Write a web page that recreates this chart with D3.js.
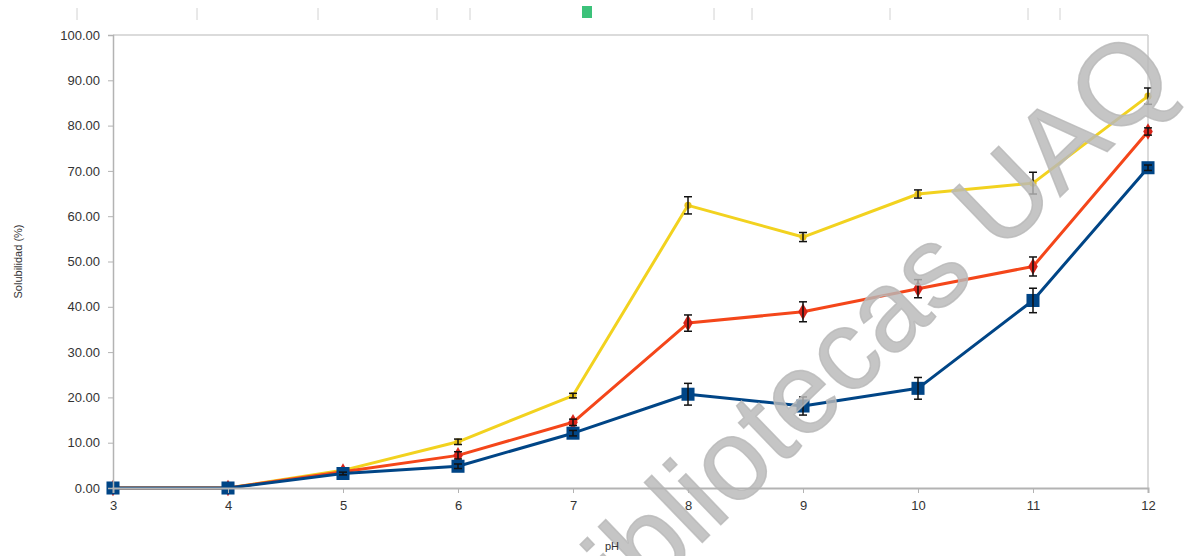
<!DOCTYPE html>
<html>
<head>
<meta charset="utf-8">
<script src="https://cdn.jsdelivr.net/npm/d3@7/dist/d3.min.js"></script>
<style>
  html, body { margin: 0; padding: 0; background: #fff; }
  svg { display: block; font-family: "Liberation Sans", Arial, sans-serif; }
</style>
</head>
<body>
<svg id="chart" width="1192" height="556"></svg>
<script>
// pH values on the x axis
const phValues = [3, 4, 5, 6, 7, 8, 9, 10, 11, 12];
const yTicks = [0, 10, 20, 30, 40, 50, 60, 70, 80, 90, 100];

// Solubility (%) per series, with standard deviations
const yellowValues = [0, 0, 3.9, 10.2, 20.4, 62.4, 55.4, 64.9, 67.3, 86.5];
const yellowErrors = [0, 0, 0.3, 0.6, 0.5, 1.9, 1.0, 0.9, 2.4, 1.8];
const redValues = [0, 0, 3.6, 7.2, 14.5, 36.4, 38.9, 44.0, 48.9, 78.7];
const redErrors = [0, 0, 0.3, 0.8, 0.7, 1.8, 2.2, 2.0, 2.1, 0.8];
const blueValues = [0, 0, 3.2, 4.8, 12.1, 20.7, 18.1, 22.0, 41.4, 70.7];
const blueErrors = [0, 0, 0.3, 0.5, 0.6, 2.4, 2.0, 2.4, 2.7, 0.6];

const series = [
  { name: "yellow", values: yellowValues, errors: yellowErrors, color: "#f2d21f", marker: "circle", size: 40, markerColor: "#e8c21a" },
  { name: "red", values: redValues, errors: redErrors, color: "#f4461a", marker: "diamond", size: 80, markerColor: "#d8251a" },
  { name: "blue", values: blueValues, errors: blueErrors, color: "#004586", marker: "square", size: 170, markerColor: "#004586" }
];

const svg = d3.select("#chart");
const margin = { left: 113, top: 35, right: 44, bottom: 68 };
const W = 1192, H = 556;
const plotW = W - margin.left - margin.right;
const plotH = H - margin.top - margin.bottom;

const x = d3.scaleLinear().domain([3, 12]).range([margin.left, margin.left + plotW]);
const y = d3.scaleLinear().domain([0, 100]).range([margin.top + plotH, margin.top]);

// faint remnants of a toolbar strip above the plot
const stripTicks = [77, 197, 318, 437, 470, 714, 752, 890, 1028, 1060];
svg.append("g").selectAll("line").data(stripTicks).join("line")
  .attr("x1", d => d).attr("x2", d => d)
  .attr("y1", 8).attr("y2", 20)
  .attr("stroke", "#d2d2d2").attr("stroke-width", 1);
svg.append("rect").attr("x", 582).attr("y", 6).attr("width", 10).attr("height", 12)
  .attr("fill", "#3cc27a");

// plot frame (top and right edges)
svg.append("line").attr("x1", margin.left).attr("x2", margin.left + plotW)
  .attr("y1", margin.top).attr("y2", margin.top)
  .attr("stroke", "#cfcfcf").attr("stroke-width", 1.5);
svg.append("line").attr("x1", margin.left + plotW).attr("x2", margin.left + plotW)
  .attr("y1", margin.top).attr("y2", margin.top + plotH)
  .attr("stroke", "#cfcfcf").attr("stroke-width", 1.5);

const line = d3.line().x(d => x(d.ph)).y(d => y(d.v));
const symbolTypes = { circle: d3.symbolCircle, diamond: d3.symbolDiamond, square: d3.symbolSquare };

series.forEach(s => {
  const pts = phValues.map((ph, i) => ({ ph, v: s.values[i], e: s.errors[i] }));
  const g = svg.append("g");
  g.append("path").datum(pts)
    .attr("d", line).attr("fill", "none")
    .attr("stroke", s.color).attr("stroke-width", 3).attr("stroke-linejoin", "round");
  g.selectAll("path.marker").data(pts).join("path")
    .attr("class", "marker")
    .attr("transform", d => `translate(${x(d.ph)},${y(d.v)})`)
    .attr("d", d3.symbol().type(symbolTypes[s.marker]).size(s.size))
    .attr("fill", s.markerColor);
  const eb = g.selectAll("g.err").data(pts.filter(d => d.e > 0)).join("g").attr("class", "err");
  eb.append("line")
    .attr("x1", d => x(d.ph)).attr("x2", d => x(d.ph))
    .attr("y1", d => y(d.v + d.e)).attr("y2", d => y(d.v - d.e))
    .attr("stroke", "#111").attr("stroke-width", 1.5);
  [1, -1].forEach(sign => {
    eb.append("line")
      .attr("x1", d => x(d.ph) - 4).attr("x2", d => x(d.ph) + 4)
      .attr("y1", d => y(d.v + sign * d.e)).attr("y2", d => y(d.v + sign * d.e))
      .attr("stroke", "#111").attr("stroke-width", 1.5);
  });
});

// watermark, translucent over the plot
svg.append("text")
  .attr("transform", "translate(852,345) rotate(-44)")
  .attr("text-anchor", "middle")
  .attr("y", 38)
  .attr("font-size", 115)
  .attr("font-family", "'Liberation Sans', Arial, sans-serif")
  .attr("fill", "#b8b8b8").attr("fill-opacity", 0.82)
  .attr("stroke", "#b8b8b8").attr("stroke-opacity", 0.82).attr("stroke-width", 1.5)
  .text("Bibliotecas UAQ");

// y axis
const yAxis = svg.append("g")
  .attr("transform", `translate(${margin.left},0)`)
  .call(d3.axisLeft(y).tickValues(yTicks).tickFormat(d3.format(".2f")).tickSize(5).tickPadding(8));
yAxis.select(".domain").attr("stroke", "#b3b3b3").attr("stroke-width", 1.5);
yAxis.selectAll(".tick line").attr("stroke", "#b3b3b3");
yAxis.selectAll(".tick text").attr("fill", "#333").attr("font-size", 13)
  .attr("font-family", "'Liberation Sans', Arial, sans-serif");

// x axis
const xAxis = svg.append("g")
  .attr("transform", `translate(0,${margin.top + plotH})`)
  .call(d3.axisBottom(x).tickValues(phValues).tickFormat(d3.format("d")).tickSize(5).tickPadding(8));
xAxis.select(".domain").attr("stroke", "#b3b3b3").attr("stroke-width", 2);
xAxis.selectAll(".tick line").attr("stroke", "#b3b3b3");
xAxis.selectAll(".tick text").attr("fill", "#333").attr("font-size", 13)
  .attr("font-family", "'Liberation Sans', Arial, sans-serif");

// axis titles
svg.append("text").attr("transform", `translate(22,${margin.top + plotH / 2}) rotate(-90)`)
  .attr("text-anchor", "middle").attr("font-size", 11).attr("fill", "#333")
  .text("Solubilidad (%)");
svg.append("text").attr("x", 612).attr("y", 550)
  .attr("text-anchor", "middle").attr("font-size", 11).attr("fill", "#333")
  .text("pH");
</script>
</body>
</html>
